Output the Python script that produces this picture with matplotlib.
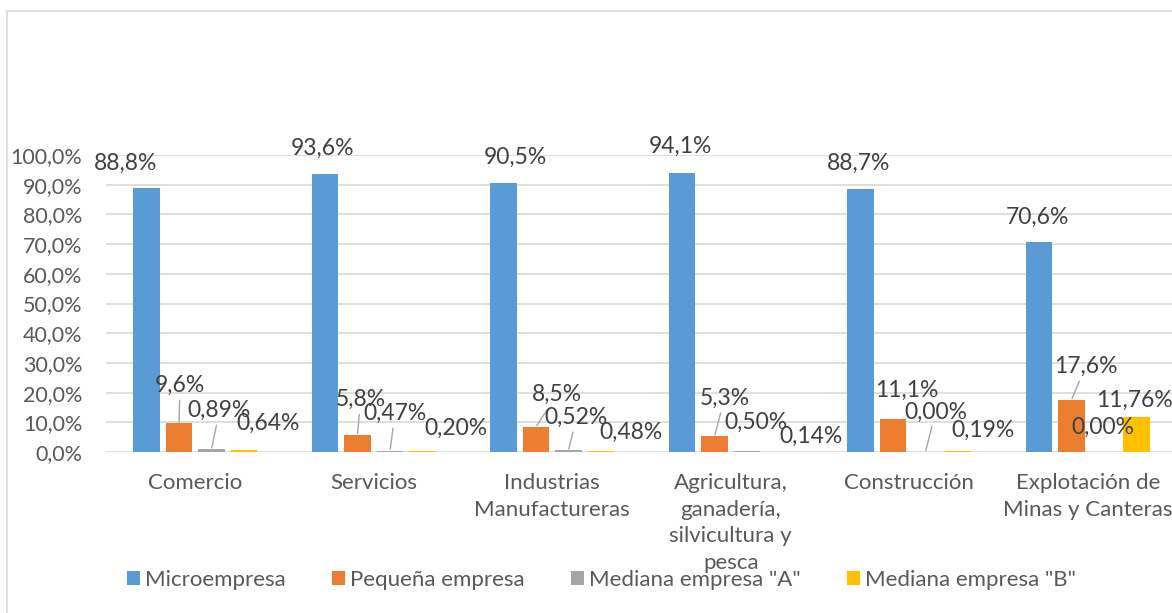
import matplotlib
matplotlib.use("Agg")
import matplotlib.pyplot as plt
from matplotlib.patches import Rectangle

categories = ["Comercio", "Servicios", "Industrias\nManufactureras",
              "Agricultura,\nganadería,\nsilvicultura y\npesca",
              "Construcción", "Explotación de\nMinas y Canteras"]
series_names = ["Microempresa", "Pequeña empresa", 'Mediana empresa "A"', 'Mediana empresa "B"']
micro = [88.8, 93.6, 90.5, 94.1, 88.7, 70.6]
pequena = [9.6, 5.8, 8.5, 5.3, 11.1, 17.6]
mediana_a = [0.89, 0.47, 0.52, 0.50, 0.00, 0.00]
mediana_b = [0.64, 0.20, 0.48, 0.14, 0.19, 11.76]
y_ticks = [0, 10, 20, 30, 40, 50, 60, 70, 80, 90, 100]

series = [micro, pequena, mediana_a, mediana_b]
decimals = [1, 1, 2, 2]
colors = ["#5B9BD5", "#ED7D31", "#A5A5A5", "#FFC000"]

# label offsets in pixels (dx, dy) relative to bar centre/top, and leader-line flag
offsets = [
    [(-21, 25), (-3, 26), (12, 26), (-2, 26), (-2, 25), (-2, 25)],
    [(1, 38), (3, 35), (21, 32), (10, 38), (14, 29), (14, 33)],
    [(8, 39), (5, 37), (8, 33), (9, 28), (10, 40), (-1, 25)],
    [(24, 27), (33, 23), (30, 18), (32, 15), (25, 21), (-2, 17)],
]
leaders = [
    [0, 0, 0, 0, 0, 0],
    [1, 1, 1, 1, 0, 1],
    [1, 1, 1, 0, 1, 0],
    [0, 0, 0, 0, 0, 0],
]

plt.rcParams['font.family'] = ['Lato', 'DejaVu Sans']
fig = plt.figure(figsize=(11.72, 6.13), dpi=100)
ax = fig.add_axes([106/1172, 1-452/613, 1071/1172, (452-155)/613])

fig.patches.append(Rectangle((7/1172, -0.1), 1.1, 1-11/613+0.1, transform=fig.transFigure,
                             fill=False, edgecolor="#D9D9D9", linewidth=1.2, zorder=0))

width = 0.146
step = 0.182
xs = list(range(len(categories)))
for si, vals in enumerate(series):
    off = (si - 1.5) * step
    bx = [x + off for x in xs]
    ax.bar(bx, vals, width=width, color=colors[si], label=series_names[si], zorder=3)
    for ci, v in enumerate(vals):
        txt = f"{v:.{decimals[si]}f}%".replace(".", ",")
        dx, dy = offsets[si][ci]
        kw = {}
        if leaders[si][ci]:
            kw['arrowprops'] = dict(arrowstyle='-', color="#A6A6A6", lw=1,
                                    shrinkA=1, shrinkB=1)
        ax.annotate(txt, xy=(bx[ci], v), xytext=(dx, dy), textcoords='offset pixels',
                    ha='center', va='center', fontsize=16.5, color="#404040",
                    annotation_clip=False, zorder=5, **kw)

ax.set_xlim(-0.5, len(categories) - 0.5)
ax.set_ylim(0, 100)
ax.set_yticks(y_ticks)
ax.set_yticklabels([f"{t:.1f}%".replace(".", ",") for t in y_ticks])
ax.set_xticks(xs)
ax.set_xticklabels(categories, linespacing=1.42)
ax.tick_params(axis='both', length=0, colors="#595959")
ax.tick_params(axis='x', pad=15, labelsize=16)
ax.tick_params(axis='y', pad=17, labelsize=15.5)
for s in ax.spines.values():
    s.set_visible(False)
ax.grid(axis='y', color="#D9D9D9", linewidth=1.2, zorder=0)
ax.set_axisbelow(True)

fig.legend(loc='center', bbox_to_anchor=(0.513, 1-580/613), ncol=4, frameon=False,
           fontsize=16, labelcolor="#595959", handlelength=0.59, handleheight=0.59,
           handletextpad=0.23, columnspacing=2.07, borderpad=0, borderaxespad=0)

fig.savefig("out.png", dpi=100)
